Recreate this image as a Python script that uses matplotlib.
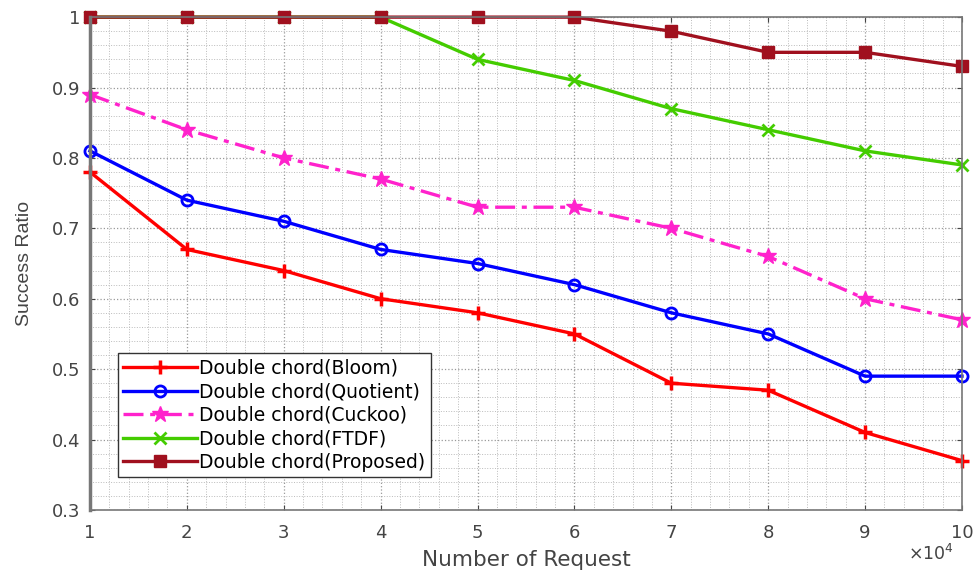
import numpy as np
import matplotlib.pyplot as plt
from matplotlib.ticker import AutoMinorLocator, FuncFormatter

plt.rcParams['font.family'] = ['DejaVu Sans']

requests = [10000, 20000, 30000, 40000, 50000, 60000, 70000, 80000, 90000, 100000]
bloom = [0.78, 0.67, 0.64, 0.60, 0.58, 0.55, 0.48, 0.47, 0.41, 0.37]
quotient = [0.81, 0.74, 0.71, 0.67, 0.65, 0.62, 0.58, 0.55, 0.49, 0.49]
cuckoo = [0.89, 0.84, 0.80, 0.77, 0.73, 0.73, 0.70, 0.66, 0.60, 0.57]
ftdf = [1.0, 1.0, 1.0, 1.0, 0.94, 0.91, 0.87, 0.84, 0.81, 0.79]
proposed = [1.0, 1.0, 1.0, 1.0, 1.0, 1.0, 0.98, 0.95, 0.95, 0.93]

fig = plt.figure(figsize=(9.8, 5.71), dpi=100)
ax = fig.add_axes([0.0918, 0.107, 0.8898, 0.863])

ax.plot(requests, bloom, color='#ff0000', marker='+', markersize=10, mew=2.5, lw=2.4,
        label='Double chord(Bloom)', clip_on=False)
ax.plot(requests, quotient, color='#0000ff', marker='o', markersize=8, mew=2, lw=2.4,
        mfc='none', label='Double chord(Quotient)', clip_on=False)
ax.plot(requests, cuckoo, color='#ff22cc', marker='*', markersize=12, lw=2.4,
        ls=(0, (6, 2, 1.5, 2)), label='Double chord(Cuckoo)', clip_on=False)
ax.plot(requests, ftdf, color='#44cc00', marker='x', markersize=8, mew=2, lw=2.4,
        label='Double chord(FTDF)', clip_on=False)
ax.plot(requests, proposed, color='#a0101e', marker='s', markersize=9, lw=2.4,
        label='Double chord(Proposed)', clip_on=False)

ax.set_xlim(10000, 100000)
ax.set_ylim(0.3, 1.0)
ax.set_xticks(requests)
ax.xaxis.set_major_formatter(FuncFormatter(lambda v, p: f'{v / 1e4:g}'))
ax.set_yticks([0.3, 0.4, 0.5, 0.6, 0.7, 0.8, 0.9, 1.0])
ax.set_yticklabels(['0.3', '0.4', '0.5', '0.6', '0.7', '0.8', '0.9', '1'])

ax.xaxis.set_minor_locator(AutoMinorLocator(5))
ax.yaxis.set_minor_locator(AutoMinorLocator(5))
ax.grid(which='major', ls=':', color='#999999', lw=0.9)
ax.grid(which='minor', ls=':', color='#bbbbbb', lw=0.7)
ax.tick_params(which='both', direction='in', top=True, right=True, labelsize=13,
               colors='#444444')
ax.tick_params(axis='x', pad=10)
ax.tick_params(axis='y', pad=7)
ax.tick_params(which='minor', length=0)

for s in ax.spines.values():
    s.set_color('#777777')
    s.set_linewidth(1.2)
ax.spines['left'].set_linewidth(2.5)

ax.set_xlabel('Number of Request', fontsize=15.5, color='#444444', va='center')
ax.xaxis.set_label_coords(0.5, -0.101)
ax.set_ylabel('Success Ratio', fontsize=14, color='#444444', va='center',
              family='Liberation Sans')
ax.yaxis.set_label_coords(-0.0745, 0.5)
fig.text(0.927, 0.03, r'$\times10^4$', fontsize=12.5, color='#444444', ha='left', va='center')

leg = ax.legend(loc='upper left', bbox_to_anchor=(0.032, 0.318), borderaxespad=0,
                prop={'family': 'DejaVu Sans', 'size': 13.5},
                fancybox=False, framealpha=1, edgecolor='#333333',
                borderpad=0.3, labelspacing=0.24, handlelength=3.9, handletextpad=0.15)

fig.savefig('out.png', dpi=100)
